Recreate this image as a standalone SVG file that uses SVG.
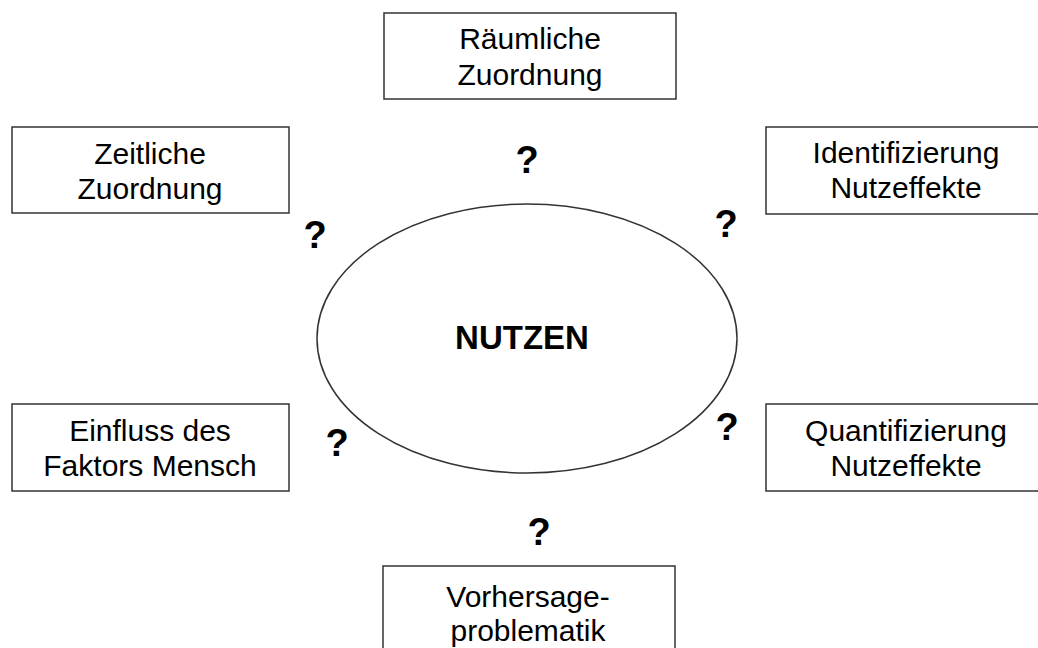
<svg xmlns="http://www.w3.org/2000/svg" width="1038" height="648" viewBox="0 0 1038 648">
<style>
.box{fill:#fff;stroke:#333;stroke-width:1.5}
.t{font-family:"Liberation Sans",Arial,sans-serif;font-size:30px;fill:#000;text-anchor:middle}
.q{font-family:"Liberation Sans",Arial,sans-serif;font-size:38px;font-weight:bold;fill:#000;text-anchor:middle}
.c{font-family:"Liberation Sans",Arial,sans-serif;font-size:33px;font-weight:bold;fill:#000;text-anchor:middle}
</style>
<rect width="1038" height="648" fill="#fff"/>
<g id="connectors"></g>
<g id="nutzen">
<ellipse cx="527" cy="338.5" rx="210" ry="134.5" fill="#fff" stroke="#333" stroke-width="1.5"/>
<text class="c" x="522" y="349">NUTZEN</text>
</g>
<g id="raeumliche">
<rect class="box" x="384" y="13" width="292" height="86"/>
<text class="t" x="530" y="49">Räumliche</text>
<text class="t" x="530" y="85">Zuordnung</text>
</g>
<g id="zeitliche">
<rect class="box" x="12" y="127" width="277" height="86"/>
<text class="t" x="150" y="164">Zeitliche</text>
<text class="t" x="150" y="199">Zuordnung</text>
</g>
<g id="identifizierung">
<rect class="box" x="766" y="127" width="282" height="87"/>
<text class="t" x="906" y="163">Identifizierung</text>
<text class="t" x="906" y="198">Nutzeffekte</text>
</g>
<g id="einfluss">
<rect class="box" x="12" y="404" width="277" height="87"/>
<text class="t" x="150" y="441">Einfluss des</text>
<text class="t" x="150" y="476">Faktors Mensch</text>
</g>
<g id="quantifizierung">
<rect class="box" x="766" y="404" width="282" height="87"/>
<text class="t" x="906" y="441">Quantifizierung</text>
<text class="t" x="906" y="476">Nutzeffekte</text>
</g>
<g id="vorhersage">
<rect class="box" x="383" y="566" width="292" height="100"/>
<text class="t" x="528" y="607">Vorhersage-</text>
<text class="t" x="528" y="641">problematik</text>
</g>
<g id="questions">
<text class="q" x="527" y="173">?</text>
<text class="q" x="315" y="248">?</text>
<text class="q" x="726" y="237">?</text>
<text class="q" x="337" y="456">?</text>
<text class="q" x="727" y="440">?</text>
<text class="q" x="539" y="545">?</text>
</g>
</svg>
